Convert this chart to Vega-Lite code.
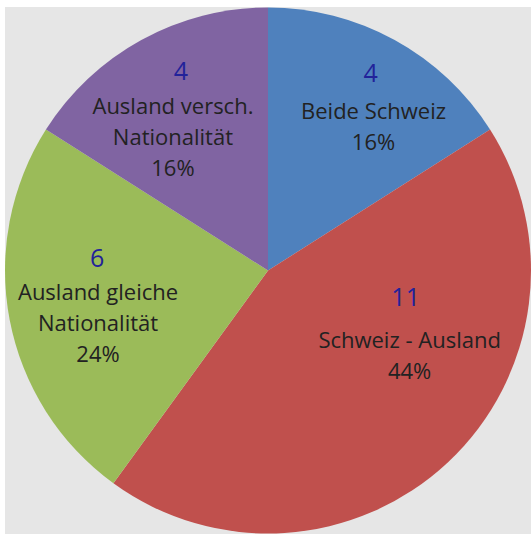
{
  "$schema": "https://vega.github.io/schema/vega-lite/v6.json",
  "width": 526,
  "height": 527,
  "padding": {"left": 5, "top": 7, "right": 0, "bottom": 0},
  "background": "white",
  "view": {"fill": "#e6e6e6", "stroke": null},
  "data": {
    "values": [
      {"label": "Beide Schweiz", "count": 4, "order": 1, "text": "Beide Schweiz\n16%"},
      {"label": "Schweiz - Ausland", "count": 11, "order": 2, "text": "Schweiz - Ausland\n44%"},
      {"label": "Ausland gleiche Nationalität", "count": 6, "order": 3, "text": "Ausland gleiche\nNationalität\n24%"},
      {"label": "Ausland versch. Nationalität", "count": 4, "order": 4, "text": "Ausland versch.\nNationalität\n16%"}
    ]
  },
  "encoding": {
    "theta": {"field": "count", "type": "quantitative", "stack": true},
    "order": {"field": "order", "type": "quantitative", "sort": "ascending"}
  },
  "layer": [
    {
      "mark": {"type": "arc", "stroke": null},
      "encoding": {
        "color": {
          "field": "label",
          "type": "nominal",
          "scale": {
            "domain": ["Beide Schweiz", "Schweiz - Ausland", "Ausland gleiche Nationalität", "Ausland versch. Nationalität"],
            "range": ["#4F81BD", "#C0504D", "#9BBB59", "#8064A2"]
          },
          "legend": null
        }
      }
    },
    {"mark": {"type": "text", "radius": 190, "dx": 11, "dy": -30, "font": "Open Sans", "fontSize": 25, "color": "#22229A"},
     "encoding": {"text": {"condition": {"test": "datum.label === 'Beide Schweiz'", "field": "count"}, "value": ""}}},
    {"mark": {"type": "text", "radius": 190, "dx": 14, "dy": 8, "font": "Open Sans", "fontSize": 22, "lineHeight": 31, "lineBreak": "\n", "color": "#222222"},
     "encoding": {"text": {"condition": {"test": "datum.label === 'Beide Schweiz'", "field": "text"}, "value": ""}}},
    {"mark": {"type": "text", "radius": 147, "dx": 37, "dy": -80, "font": "Open Sans", "fontSize": 25, "color": "#22229A"},
     "encoding": {"text": {"condition": {"test": "datum.label === 'Schweiz - Ausland'", "field": "count"}, "value": ""}}},
    {"mark": {"type": "text", "radius": 147, "dx": 41, "dy": -37, "font": "Open Sans", "fontSize": 22, "lineHeight": 31, "lineBreak": "\n", "color": "#222222"},
     "encoding": {"text": {"condition": {"test": "datum.label === 'Schweiz - Ausland'", "field": "text"}, "value": ""}}},
    {"mark": {"type": "text", "radius": 171, "dx": -3, "dy": -44, "font": "Open Sans", "fontSize": 25, "color": "#22229A"},
     "encoding": {"text": {"condition": {"test": "datum.label === 'Ausland gleiche Nationalität'", "field": "count"}, "value": ""}}},
    {"mark": {"type": "text", "radius": 171, "dx": -2, "dy": -10, "font": "Open Sans", "fontSize": 22, "lineHeight": 31, "lineBreak": "\n", "color": "#222222"},
     "encoding": {"text": {"condition": {"test": "datum.label === 'Ausland gleiche Nationalität'", "field": "text"}, "value": ""}}},
    {"mark": {"type": "text", "radius": 189, "dx": 4, "dy": -33, "font": "Open Sans", "fontSize": 25, "color": "#22229A"},
     "encoding": {"text": {"condition": {"test": "datum.label === 'Ausland versch. Nationalität'", "field": "count"}, "value": ""}}},
    {"mark": {"type": "text", "radius": 189, "dx": -4, "dy": 2, "font": "Open Sans", "fontSize": 22, "lineHeight": 31, "lineBreak": "\n", "color": "#222222"},
     "encoding": {"text": {"condition": {"test": "datum.label === 'Ausland versch. Nationalität'", "field": "text"}, "value": ""}}}
  ]
}
